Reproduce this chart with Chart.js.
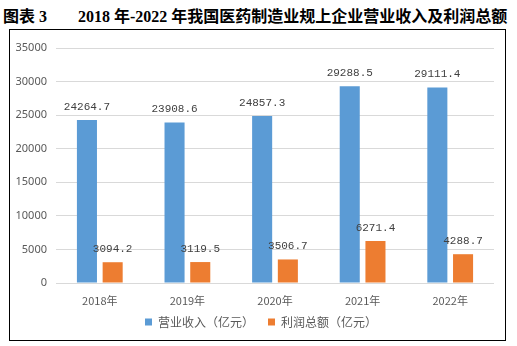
<!DOCTYPE html>
<html>
<head>
<meta charset="utf-8">
<script src="https://cdn.jsdelivr.net/npm/chart.js@4/dist/chart.umd.min.js"></script>
<style>
  html, body { margin:0; padding:0; background:#fff; }
  body { width:517px; height:346px; position:relative; overflow:hidden; }
  #title { position:absolute; left:3px; top:7px; font-size:16px; line-height:20px; font-weight:bold;
           font-family:"Liberation Serif","Noto Sans CJK SC",serif; color:#000; white-space:nowrap; }
  #title .t2 { position:absolute; left:75px; top:0; }
  #frame { position:absolute; left:9px; top:29px; width:497px; height:312px; border:1px solid #000; box-sizing:border-box; }
  #c { position:absolute; left:0; top:0; }
</style>
</head>
<body>
<div id="title"><span>图表 3</span><span class="t2">2018 年-2022 年我国医药制造业规上企业营业收入及利润总额</span></div>
<div id="frame"></div>
<canvas id="c" width="517" height="346"></canvas>
<script>
const categories = ["2018年", "2019年", "2020年", "2021年", "2022年"];
const seriesNames = ["营业收入（亿元）", "利润总额（亿元）"];
const revenue = [24264.7, 23908.6, 24857.3, 29288.5, 29111.4];
const profit = [3094.2, 3119.5, 3506.7, 6271.4, 4288.7];
const yTicks = [0, 5000, 10000, 15000, 20000, 25000, 30000, 35000];

const labelPlugin = {
  id: 'valueLabels',
  afterLayout(chart) {
    if (chart.legend) {
      chart.legend.left += 9; chart.legend.right += 9;
      chart.legend.top -= 7; chart.legend.bottom -= 7;
    }
  },
  afterDatasetsDraw(chart) {
    const ctx = chart.ctx;
    ctx.save();
    ctx.font = '11px "Liberation Mono", "DejaVu Sans Mono", monospace';
    ctx.fillStyle = '#404040';
    ctx.textAlign = 'center';
    ctx.textBaseline = 'middle';
    chart.data.datasets.forEach((ds, i) => {
      const meta = chart.getDatasetMeta(i);
      meta.data.forEach((bar, j) => {
        ctx.fillText(ds.data[j].toFixed(1), bar.x, bar.y - 13);
      });
    });
    ctx.restore();
  }
};

new Chart(document.getElementById('c'), {
  type: 'bar',
  data: {
    labels: categories,
    datasets: [
      { label: seriesNames[0], data: revenue, backgroundColor: '#5b9bd5', categoryPercentage: 0.587, barPercentage: 0.78 },
      { label: seriesNames[1], data: profit, backgroundColor: '#ed7d31', categoryPercentage: 0.587, barPercentage: 0.78 }
    ]
  },
  options: {
    responsive: false,
    animation: false,
    devicePixelRatio: 1,
    layout: { padding: { left: 10, right: 23, top: 48, bottom: 1 } },
    plugins: {
      legend: {
        position: 'bottom',
        labels: {
          boxWidth: 7, boxHeight: 7, padding: 14,
          color: '#595959',
          font: { size: 12, family: '"Noto Sans CJK SC", sans-serif' }
        }
      },
      tooltip: { enabled: false }
    },
    scales: {
      x: {
        grid: { display: false },
        border: { display: false },
        ticks: { color: '#595959', padding: 3, maxRotation: 0, minRotation: 0, autoSkip: false,
                 font: { size: 11, family: '"Noto Sans CJK SC", sans-serif' } },
        afterFit(scale) { scale.height = 26; }
      },
      y: {
        min: 0, max: 35000,
        afterBuildTicks(scale) { scale.ticks = yTicks.map(v => ({ value: v })); },
        grid: { color: '#d9d9d9', drawTicks: false },
        border: { display: false },
        ticks: { color: '#595959', padding: 9, font: { size: 11, family: '"Noto Sans", sans-serif' },
                 callback: (v) => String(v) },
        afterFit(scale) { scale.width = 46; }
      }
    }
  },
  plugins: [labelPlugin]
});
</script>
</body>
</html>
